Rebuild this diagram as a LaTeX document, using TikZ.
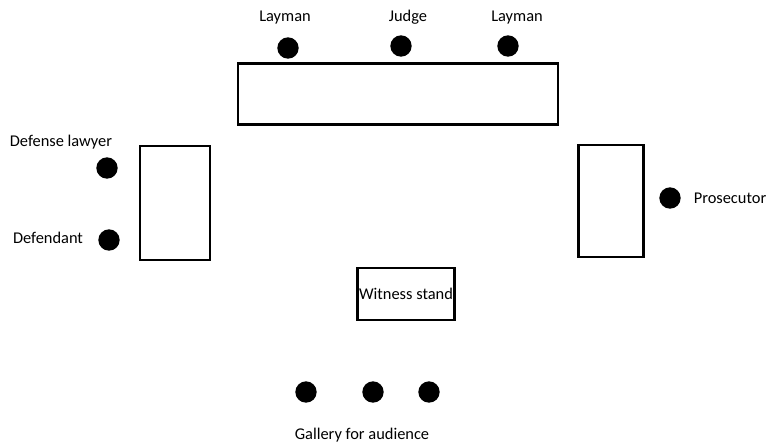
\documentclass[tikz,border=0pt]{standalone}
\usepackage{fontspec}
\setmainfont{Carlito}
\usetikzlibrary{positioning}

\begin{document}
\begin{tikzpicture}
    [x=0.03cm,y=-0.03cm,
     person/.style={circle, fill=black, inner sep=0pt, minimum size=0.64cm},
     tbl/.style={draw, line width=2pt, rectangle, inner sep=0pt},
     lbl/.style={font=\fontsize{14}{16}\selectfont, inner sep=1pt}]
  \useasboundingbox (0,0) rectangle (766,443);

  % tables
  \node[tbl, minimum width=9.6cm, minimum height=1.83cm] (bench) at (398,94) {};
  \node[tbl, minimum width=2.1cm, minimum height=3.42cm] (deftbl) at (175,203) {};
  \node[tbl, minimum width=1.95cm, minimum height=3.36cm] (prostbl) at (611,201) {};
  \node[tbl, minimum width=2.9cm, minimum height=1.56cm, lbl, inner sep=0pt] (witness) at (406,294) {Witness stand};

  % people
  \node[person] (lay1) at (288,48) {};
  \node[person] (judge) at (401,46) {};
  \node[person] (lay2) at (508,46) {};
  \node[person] (lawyer) at (107,168) {};
  \node[person] (defendant) at (109,240) {};
  \node[person] (prosecutor) at (670,198) {};
  \foreach \n/\x in {g1/306, g2/373, g3/429}
    \node[person] (\n) at (\x,392) {};

  % labels
  \node[lbl] (lay1lbl) at (285,18) {Layman};
  \node[lbl] (judgelbl) at (408,17) {Judge};
  \node[lbl] (lay2lbl) at (517,18) {Layman};
  \node[lbl] (lawyerlbl) at (61,142) {Defense lawyer};
  \node[lbl] (defendantlbl) at (48,238) {Defendant};
  \node[lbl] (proslbl) at (730,198) {Prosecutor};
  \node[lbl] (gallerylbl) at (362,435) {Gallery for audience};
\end{tikzpicture}
\end{document}
